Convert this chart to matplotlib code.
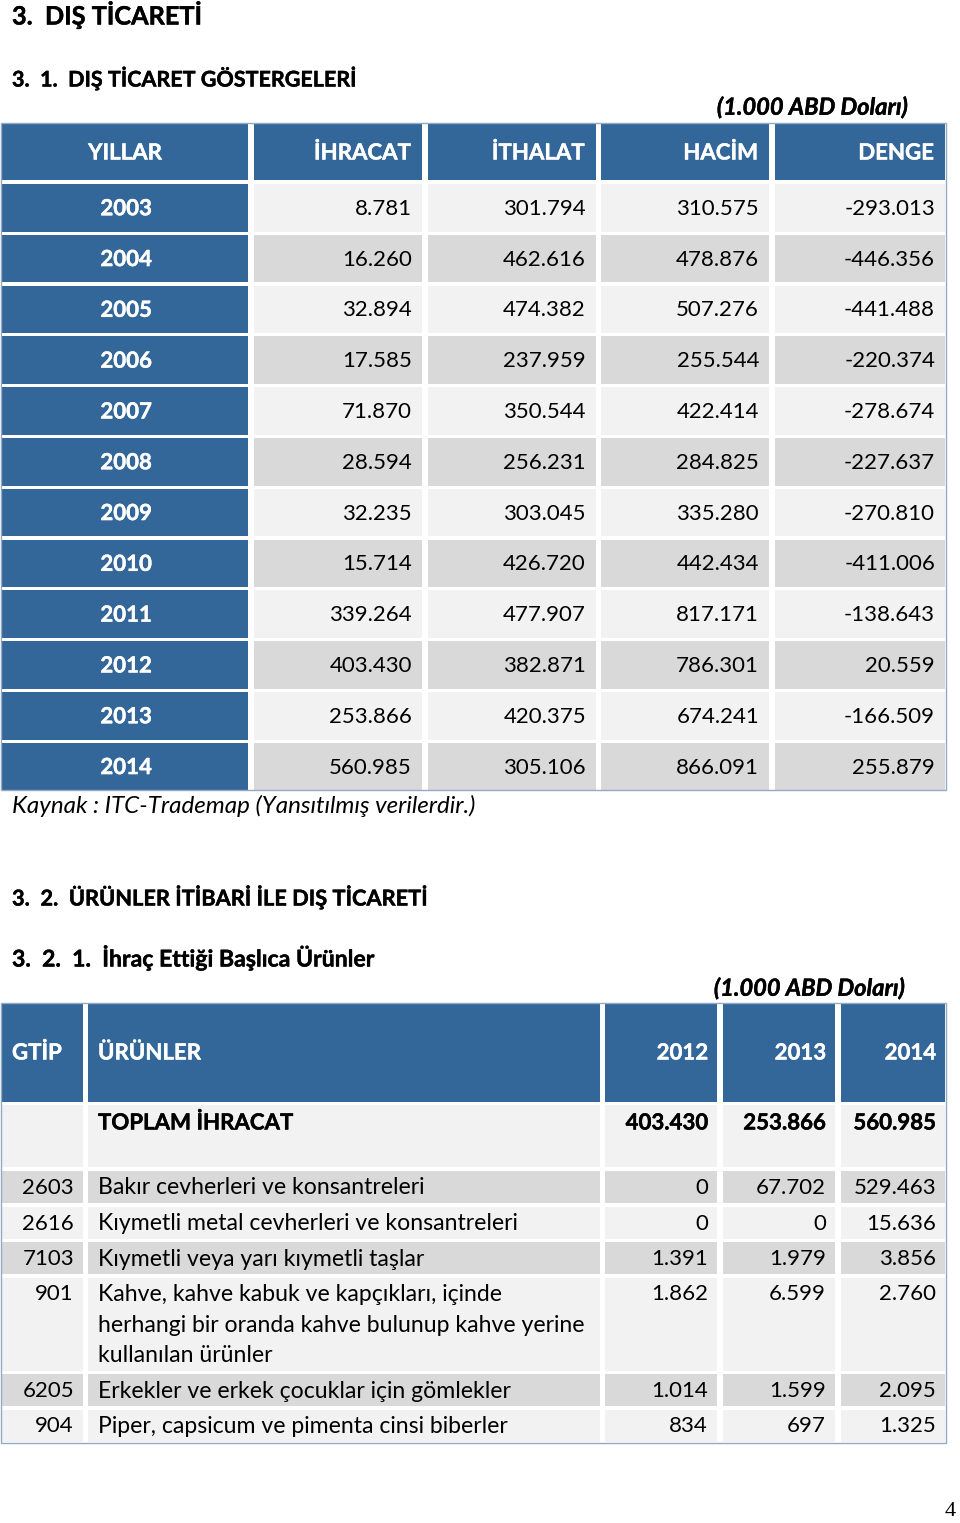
import matplotlib.pyplot as plt
from matplotlib.patches import Rectangle
import matplotlib.patheffects as pe

plt.rcParams['font.family'] = ['Lato', 'DejaVu Sans']

# Table 1: foreign trade indicators (1.000 USD)
years = [2003, 2004, 2005, 2006, 2007, 2008, 2009, 2010, 2011, 2012, 2013, 2014]
ihracat = [8781, 16260, 32894, 17585, 71870, 28594, 32235, 15714, 339264, 403430, 253866, 560985]
ithalat = [301794, 462616, 474382, 237959, 350544, 256231, 303045, 426720, 477907, 382871, 420375, 305106]
hacim = [310575, 478876, 507276, 255544, 422414, 284825, 335280, 442434, 817171, 786301, 674241, 866091]
denge = [-293013, -446356, -441488, -220374, -278674, -227637, -270810, -411006, -138643, 20559, -166509, 255879]
t1_headers = ['YILLAR', 'İHRACAT', 'İTHALAT', 'HACİM', 'DENGE']

# Table 2: main export products
t2_headers = ['GTİP', 'ÜRÜNLER', '2012', '2013', '2014']
totals = [403430, 253866, 560985]
gtip = ['2603', '2616', '7103', '901', '6205', '904']
products = [
    'Bakır cevherleri ve konsantreleri',
    'Kıymetli metal cevherleri ve konsantreleri',
    'Kıymetli veya yarı kıymetli taşlar',
    'Kahve, kahve kabuk ve kapçıkları, içinde\nherhangi bir oranda kahve bulunup kahve yerine\nkullanılan ürünler',
    'Erkekler ve erkek çocuklar için gömlekler',
    'Piper, capsicum ve pimenta cinsi biberler',
]
v2012 = [0, 0, 1391, 1862, 1014, 834]
v2013 = [67702, 0, 1979, 6599, 1599, 697]
v2014 = [529463, 15636, 3856, 2760, 2095, 1325]

BLUE = '#336699'
LIGHT = '#f2f2f2'
DARK = '#d9d9d9'
EDGE = '#93aac4'


def fmt(v):
    return f'{v:,}'.replace(',', '.')


def cell(ax, x0, x1, y0, y1, color):
    ax.add_patch(Rectangle((x0, y0), x1 - x0, y1 - y0, facecolor=color, edgecolor='none'))


def heavy(color):
    # thicken Lato bold slightly, the original is a heavier bold
    return [pe.withStroke(linewidth=0.3, foreground=color)]


fig = plt.figure(figsize=(9.6, 15.23), dpi=100)
ax = fig.add_axes([0, 0, 1, 1])
ax.set_xlim(0, 960)
ax.set_ylim(1523, 0)
ax.axis('off')

# headings
ax.text(12, 15, '3.  DIŞ TİCARETİ', fontsize=18.2, fontweight='bold', va='center', path_effects=heavy('black'))
ax.text(12, 78, '3.  1.  DIŞ TİCARET GÖSTERGELERİ', fontsize=15.5, fontweight='bold', va='center',
        path_effects=heavy('black'))
ax.text(908, 107, '(1.000 ABD Doları)', fontsize=17, fontweight='bold', style='italic', va='center', ha='right',
        path_effects=heavy('black'))

# ---- table 1 ----
cols1 = [(2, 248), (254, 422), (428, 596), (601, 769), (775, 945)]
cell(ax, 1, 946, 123, 790, 'white')
for (x0, x1), h in zip(cols1, t1_headers):
    cell(ax, x0, x1, 124, 180, BLUE)
    if h == 'YILLAR':
        ax.text((x0 + x1) / 2, 153, h, color='white', fontsize=16, fontweight='bold', ha='center', va='center',
                path_effects=heavy('white'))
    else:
        ax.text(x1 - 11, 153, h, color='white', fontsize=16, fontweight='bold', ha='right', va='center',
                path_effects=heavy('white'))

pitch = 50.8
for i, yr in enumerate(years):
    y0 = 184 + i * pitch
    y1 = y0 + 47.5
    yc = (y0 + y1) / 2 + 1
    bg = LIGHT if i % 2 == 0 else DARK
    cell(ax, cols1[0][0], cols1[0][1], y0, y1, BLUE)
    ax.text(126, yc, str(yr), color='white', fontsize=16, fontweight='bold', ha='center', va='center',
            path_effects=heavy('white'))
    for (x0, x1), v in zip(cols1[1:], [ihracat[i], ithalat[i], hacim[i], denge[i]]):
        cell(ax, x0, x1, y0, y1, bg)
        ax.text(x1 - 10, yc, fmt(v), fontsize=16, ha='right', va='center')
ax.add_patch(Rectangle((1, 123), 945, 666.5, facecolor='none', edgecolor=EDGE, lw=1))

ax.text(12, 806, 'Kaynak : ITC-Trademap (Yansıtılmış verilerdir.)', fontsize=17.4, style='italic', va='center')

# ---- section 2 headings ----
ax.text(12, 897, '3.  2.  ÜRÜNLER İTİBARİ İLE DIŞ TİCARETİ', fontsize=15.7, fontweight='bold', va='center',
        path_effects=heavy('black'))
ax.text(12, 958, '3.  2.  1.  İhraç Ettiği Başlıca Ürünler', fontsize=16.6, fontweight='bold', va='center',
        path_effects=heavy('black'))
ax.text(905, 988, '(1.000 ABD Doları)', fontsize=17, fontweight='bold', style='italic', va='center', ha='right',
        path_effects=heavy('black'))

# ---- table 2 ----
cols2 = [(2, 83), (88, 600), (605, 717), (723, 835), (841, 945)]
cell(ax, 1, 946, 1003, 1440, 'white')
for j, ((x0, x1), h) in enumerate(zip(cols2, t2_headers)):
    cell(ax, x0, x1, 1004, 1102, BLUE)
    if j < 2:
        ax.text(x0 + 10, 1053, h, color='white', fontsize=16, fontweight='bold', ha='left', va='center',
                path_effects=heavy('white'))
    else:
        ax.text(x1 - 9, 1053, h, color='white', fontsize=16, fontweight='bold', ha='right', va='center',
                path_effects=heavy('white'))

# total row
for x0, x1 in cols2:
    cell(ax, x0, x1, 1105, 1167, LIGHT)
ax.text(98, 1123, 'TOPLAM İHRACAT', fontsize=16, fontweight='bold', va='center', path_effects=heavy('black'))
for (x0, x1), v in zip(cols2[2:], totals):
    ax.text(x1 - 9, 1123, fmt(v), fontsize=16, fontweight='bold', ha='right', va='center',
            path_effects=heavy('black'))

# product rows
y0 = 1171
line_h = 30.5
for i in range(len(gtip)):
    lines = products[i].split('\n')
    h = 32 + line_h * (len(lines) - 1)
    bg = DARK if i % 2 == 0 else LIGHT
    for x0, x1 in cols2:
        cell(ax, x0, x1, y0, y0 + h, bg)
    ty = y0 + 17
    ax.text(cols2[0][1] - 9, ty, gtip[i], fontsize=16, ha='right', va='center')
    for k, ln in enumerate(lines):
        ax.text(98, ty + k * line_h, ln, fontsize=16.6, ha='left', va='center')
    for (x0, x1), v in zip(cols2[2:], [v2012[i], v2013[i], v2014[i]]):
        ax.text(x1 - 9, ty, fmt(v), fontsize=16, ha='right', va='center')
    y0 += h + 3.5
ax.add_patch(Rectangle((1, 1003), 945, y0 - 2.5 - 1003, facecolor='none', edgecolor=EDGE, lw=1))

# page number
ax.text(956, 1512, '4', fontsize=16, family='Liberation Serif', ha='right', va='center')

fig.savefig('out.png', dpi=100)
